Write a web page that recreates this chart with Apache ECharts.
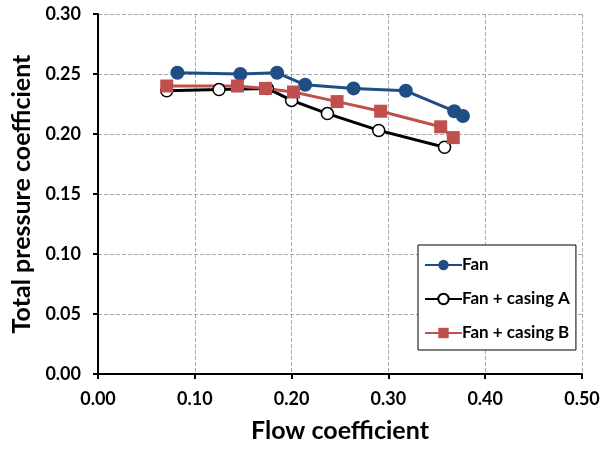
<!DOCTYPE html>
<html>
<head>
<meta charset="utf-8">
<script src="https://cdn.jsdelivr.net/npm/echarts@6/dist/echarts.min.js"></script>
<style>
html,body{margin:0;padding:0;background:#fff;}
#chart{width:608px;height:456px;}
</style>
</head>
<body>
<div id="chart"></div>
<script>
// data: [flow coefficient, total pressure coefficient]
var fanData = [[0.082,0.251],[0.147,0.250],[0.185,0.251],[0.214,0.241],[0.264,0.238],[0.318,0.236],[0.368,0.219],[0.377,0.215]];
var casingAData = [[0.071,0.236],[0.125,0.237],[0.175,0.238],[0.200,0.228],[0.237,0.217],[0.290,0.203],[0.358,0.189]];
var casingBData = [[0.071,0.240],[0.144,0.240],[0.173,0.238],[0.202,0.235],[0.247,0.227],[0.292,0.219],[0.354,0.206],[0.367,0.197]];
var seriesNames = ['Fan','Fan + casing A','Fan + casing B'];

var fontName = 'Lato';

var myChart = echarts.init(document.getElementById('chart'));

var option = {
	animation: false,
	backgroundColor: '#fff',
	grid: {
		left: 98,
		right: 26,
		top: 14,
		bottom: 82
	},
	legend: {
		orient: 'vertical',
		left: 418,
		top: 245,
		data: seriesNames,
		itemWidth: 37,
		itemHeight: 13,
		itemGap: 14,
		padding: [10, 6, 7, 6],
		borderColor: '#000',
		borderWidth: 1,
		backgroundColor: '#fff',
		textStyle: {
			fontFamily: fontName,
			fontWeight: 'bold',
			fontSize: 17,
			lineHeight: 20,
			color: '#000',
			padding: [0, 0, 0, -5]
		}
	},
	xAxis: {
		type: 'value',
		min: 0,
		max: 0.5,
		interval: 0.1,
		name: 'Flow coefficient',
		nameLocation: 'middle',
		nameGap: 44,
		nameTextStyle: {
			fontFamily: fontName,
			fontWeight: 'bold',
			fontSize: 25,
			color: '#000'
		},
		axisLine: { lineStyle: { color: '#000', width: 2 } },
		axisTick: { show: true, length: 5, lineStyle: { color: '#000', width: 2 } },
		axisLabel: {
			fontFamily: fontName,
			fontWeight: 'bold',
			fontSize: 18,
			color: '#000',
			margin: 16,
			formatter: function(v){ return v.toFixed(2); }
		},
		splitLine: { show: true, lineStyle: { color: '#aaa', type: 'dashed', width: 1 } }
	},
	yAxis: {
		type: 'value',
		min: 0,
		max: 0.3,
		interval: 0.05,
		name: 'Total pressure coefficient',
		nameLocation: 'middle',
		nameGap: 60,
		nameTextStyle: {
			fontFamily: fontName,
			fontWeight: 'bold',
			fontSize: 25,
			color: '#000'
		},
		axisLine: { show: true, lineStyle: { color: '#000', width: 2 } },
		axisTick: { show: true, length: 5, lineStyle: { color: '#000', width: 2 } },
		axisLabel: {
			fontFamily: fontName,
			fontWeight: 'bold',
			fontSize: 18,
			color: '#000',
			margin: 17,
			formatter: function(v){ return v.toFixed(2); }
		},
		splitLine: { show: true, lineStyle: { color: '#aaa', type: 'dashed', width: 1 } }
	},
	series: [
		{
			name: seriesNames[0],
			type: 'line',
			data: fanData,
			symbol: 'circle',
			symbolSize: 14,
			lineStyle: { color: '#1f4e85', width: 3 },
			itemStyle: { color: '#1f4e85' }
		},
		{
			name: seriesNames[1],
			type: 'line',
			data: casingAData,
			symbol: 'circle',
			symbolSize: 12,
			lineStyle: { color: '#000', width: 3 },
			itemStyle: { color: '#fff', borderColor: '#000', borderWidth: 1.5 }
		},
		{
			name: seriesNames[2],
			type: 'line',
			data: casingBData,
			symbol: 'rect',
			symbolSize: 13,
			lineStyle: { color: '#c0504d', width: 3 },
			itemStyle: { color: '#c0504d' }
		}
	]
};

myChart.setOption(option);
</script>
</body>
</html>
